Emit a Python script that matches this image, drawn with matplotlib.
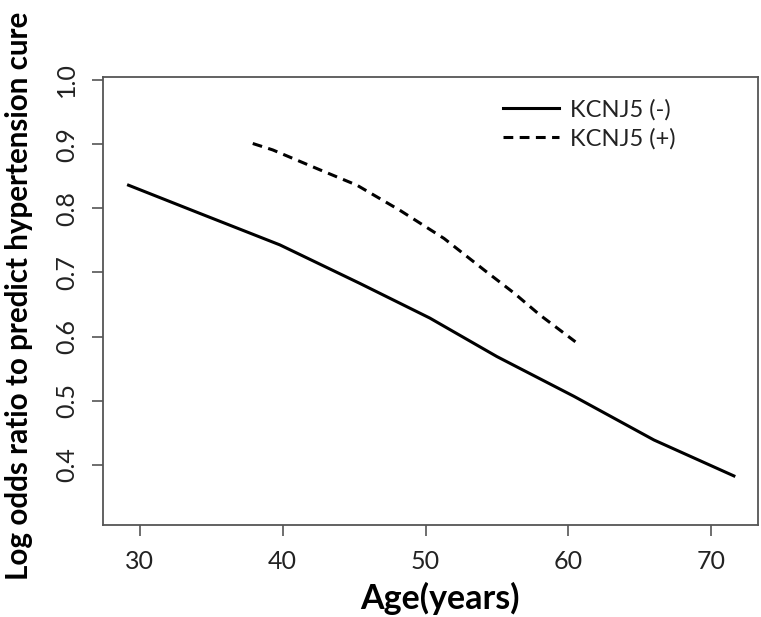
import matplotlib
matplotlib.use("Agg")
import matplotlib.pyplot as plt

age_neg = [29.2, 34.2, 39.8, 45.4, 50.3, 55.0, 60.4, 66.0, 71.6]
lor_neg = [0.836, 0.792, 0.743, 0.683, 0.629, 0.569, 0.507, 0.439, 0.383]
age_pos = [37.9, 39.3, 42.6, 45.2, 48.2, 51.3, 54.1, 56.2, 58.0, 60.5]
lor_pos = [0.901, 0.891, 0.860, 0.836, 0.797, 0.753, 0.704, 0.668, 0.634, 0.592]
x_ticks = [30, 40, 50, 60, 70]
y_ticks = [0.4, 0.5, 0.6, 0.7, 0.8, 0.9, 1.0]
y_ticklabels = ["0.4", "0.5", "0.6", "0.7", "0.8", "0.9", "1.0"]
labels = ["KCNJ5 (-)", "KCNJ5 (+)"]

plt.rcParams['font.family'] = ['Lato', 'DejaVu Sans']

fig = plt.figure(figsize=(7.61, 6.17), dpi=100)
ax = fig.add_axes([0.1357, 0.1491, 0.86, 0.7266])

ax.plot(age_neg, lor_neg, color='black', lw=2.2, ls='-', label=labels[0])
ax.plot(age_pos, lor_pos, color='black', lw=2.2, ls=(0, (3.2, 2.1)), label=labels[1])

ax.set_xlim(27.43, 73.27)
ax.set_ylim(0.3065, 1.0051)
ax.set_xticks(x_ticks)
ax.set_xticklabels([str(t) for t in x_ticks])
ax.set_yticks(y_ticks)
ax.set_yticklabels(y_ticklabels, rotation=90, va='center')

for s in ax.spines.values():
    s.set_color('#555555')
    s.set_linewidth(1.3)
ax.tick_params(axis='both', direction='out', length=8, width=1.2, color='#555555',
               labelsize=18, labelcolor='#222222')
ax.tick_params(axis='x', pad=10)
ax.tick_params(axis='y', pad=10)

ax.set_xlabel("Age(years)", fontsize=24.5, fontweight='bold')
ax.xaxis.set_label_coords(0.515, -0.128)
ax.set_ylabel("Log odds ratio to predict hypertension cure", fontsize=21.3, fontweight='bold')
ax.yaxis.set_label_coords(-0.108, 0.51)

leg = ax.legend(loc='center left', bbox_to_anchor=(0.611, 0.894), frameon=False,
                borderpad=0, borderaxespad=0,
                fontsize=17, handlelength=2.35, handletextpad=0.5, labelspacing=0.3)
for t in leg.get_texts():
    t.set_color('#222222')

fig.savefig("out.png", dpi=100)
